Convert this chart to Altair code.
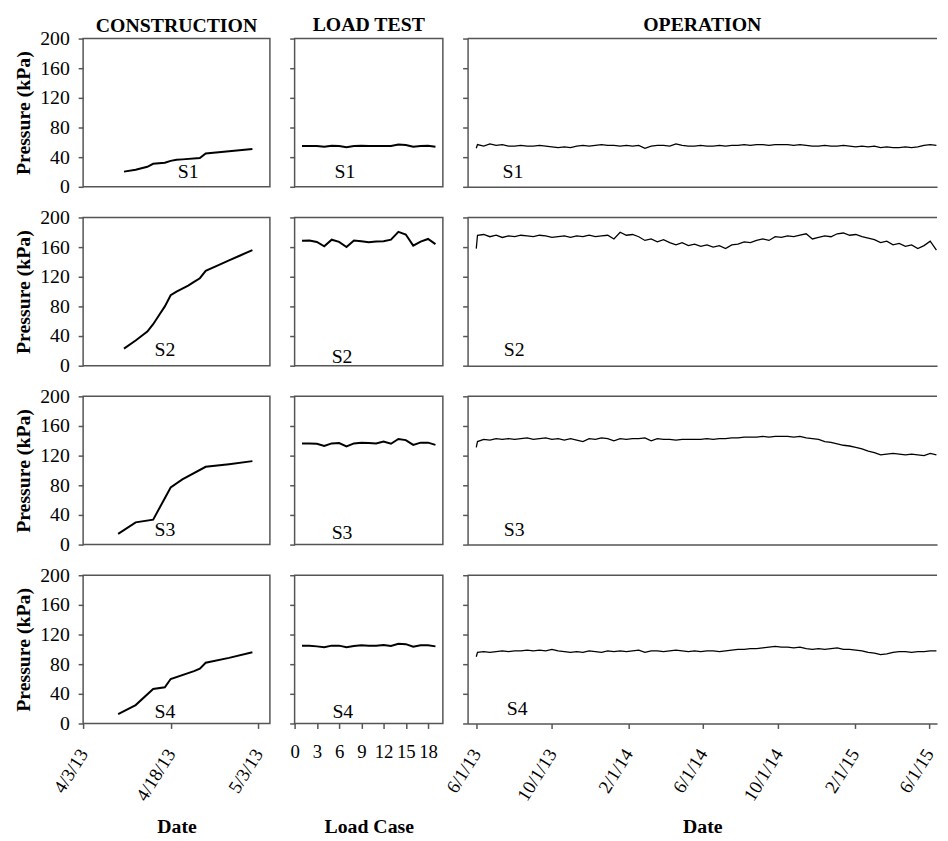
import altair as alt
import pandas as pd

FONT = "'Liberation Serif', 'Times New Roman', Times, 'DejaVu Serif', serif"
EDGE = "#555555"

sensor_names = ["S1", "S2", "S3", "S4"]

# ---------------- CONSTRUCTION (date, kPa) ----------------
con_s1_dates = ["2013-04-10", "2013-04-12", "2013-04-14", "2013-04-15", "2013-04-17", "2013-04-18",
                "2013-04-19", "2013-04-20", "2013-04-23", "2013-04-24", "2013-04-28", "2013-05-02"]
con_s1_vals = [20.5, 23, 27, 31, 32.5, 35, 36.5, 37, 38.8, 45, 48, 51]

con_s2_dates = ["2013-04-10", "2013-04-12", "2013-04-13", "2013-04-14", "2013-04-15", "2013-04-16",
                "2013-04-17", "2013-04-18", "2013-04-19", "2013-04-20", "2013-04-21", "2013-04-22",
                "2013-04-23", "2013-04-24", "2013-04-26", "2013-04-28", "2013-04-30", "2013-05-02"]
con_s2_vals = [23, 34, 40, 46, 56, 68, 80, 95, 100, 104, 108, 113, 118, 128, 135, 142, 149, 156]

con_s3_dates = ["2013-04-09", "2013-04-12", "2013-04-15", "2013-04-18", "2013-04-20", "2013-04-24",
                "2013-04-28", "2013-05-02"]
con_s3_vals = [14.5, 30, 33.7, 77, 88, 105, 108.5, 112.6]

con_s4_dates = ["2013-04-09", "2013-04-12", "2013-04-15", "2013-04-17", "2013-04-18", "2013-04-22",
                "2013-04-23", "2013-04-24", "2013-04-28", "2013-05-02"]
con_s4_vals = [12.6, 24.8, 46.5, 48.8, 60, 70.7, 74, 82, 88.5, 96]

# ---------------- LOAD TEST (load case, kPa) ----------------
load_cases = list(range(1, 20))
load_s1 = [55, 55, 55, 54, 55.5, 55, 53.5, 55, 55.5, 55, 55, 55, 55, 57, 56.5, 54, 55, 55.5, 54]
load_s2 = [168.5, 169, 167, 161, 170, 167, 160, 169, 168, 166.5, 167.5, 168, 170, 180.5, 177, 162, 167.5, 171, 164]
load_s3 = [136.5, 136.5, 136, 133, 136.5, 137, 132.5, 136.5, 137.5, 137, 136.5, 139, 136, 142.5, 141, 134.5, 137.5, 137.5, 134.5]
load_s4 = [105, 105, 104, 103, 105, 105, 103, 104.5, 105.5, 105, 105, 106, 104.5, 107.5, 107, 103.5, 105.5, 105.5, 104]

# ---------------- OPERATION (date, kPa) ----------------
op_dates = ["2013-06-01"] + [d.strftime("%Y-%m-%d") for d in pd.date_range("2013-06-03", periods=75, freq="10D")]
op_s1 = [52,
         57, 55, 58, 56, 57, 55, 55, 56, 55, 55, 56, 55, 54, 53, 54,
         53, 55, 56, 55, 56, 57, 56, 56, 55, 56, 55, 56, 52, 55, 56,
         56, 55, 58, 56, 55, 55, 56, 55, 55, 56, 55, 56, 56, 57, 56,
         57, 57, 56, 57, 57, 57, 56, 57, 56, 55, 55, 56, 55, 55, 56,
         55, 54, 55, 54, 55, 53, 54, 53, 53, 54, 53, 54, 56, 57, 56]
op_s2 = [158,
         176, 177, 174, 176, 173, 175, 174, 176, 175, 174, 176, 175, 173, 174, 175,
         173, 175, 174, 176, 174, 175, 176, 171, 180, 176, 177, 174, 169, 171, 167,
         170, 166, 163, 166, 162, 164, 161, 163, 160, 162, 158, 163, 164, 167, 166,
         169, 171, 169, 174, 173, 175, 174, 176, 178, 171, 173, 175, 174, 178, 179,
         176, 177, 174, 172, 170, 166, 168, 163, 165, 161, 163, 158, 162, 168, 156]
op_s3 = [131,
         139, 142, 141, 143, 142, 143, 142, 143, 144, 142, 143, 144, 142, 143, 141,
         143, 141, 139, 143, 142, 144, 143, 140, 143, 142, 143, 143, 144, 140, 143,
         142, 142, 141, 142, 142, 142, 142, 143, 142, 143, 143, 144, 144, 145, 145,
         145, 146, 145, 146, 146, 146, 145, 146, 144, 143, 142, 139, 138, 136, 134,
         133, 131, 129, 126, 124, 121, 122, 123, 122, 121, 122, 121, 120, 123, 121]
op_s4 = [90,
         96, 97, 96, 97, 98, 97, 98, 98, 99, 98, 99, 98, 100, 98, 97,
         96, 97, 96, 98, 97, 96, 98, 97, 98, 97, 98, 99, 96, 98, 98,
         97, 98, 99, 98, 97, 98, 97, 98, 98, 97, 98, 99, 100, 100, 101,
         101, 102, 103, 104, 103, 103, 102, 103, 101, 100, 101, 100, 101, 102, 100,
         100, 99, 98, 96, 95, 93, 94, 96, 97, 97, 96, 97, 97, 98, 98]

# sensor label anchors (data coordinates)
con_label_dates = ["2013-04-21", "2013-04-17", "2013-04-17", "2013-04-17"]
con_label_vals = [20, 21, 19, 15]
load_label_x = [6.8, 6.4, 6.4, 6.5]
load_label_vals = [20, 12, 16, 16]
op_label_dates = ["2013-07-30", "2013-08-01", "2013-08-01", "2013-08-06"]
op_label_vals = [20, 21, 19, 19]

y_ticks = [0, 40, 80, 120, 160, 200]
load_ticks = [0, 3, 6, 9, 12, 15, 18]


def dt(y, m, d):
    return alt.DateTime(year=y, month=m, date=d)


con_ticks = [dt(2013, 4, 3), dt(2013, 4, 18), dt(2013, 5, 3)]
con_domain = [dt(2013, 4, 3), dt(2013, 5, 5)]
op_ticks = [dt(2013, 6, 1), dt(2013, 10, 1), dt(2014, 2, 1), dt(2014, 6, 1),
            dt(2014, 10, 1), dt(2015, 2, 1), dt(2015, 6, 1)]
op_domain = [dt(2013, 5, 18), dt(2015, 6, 14)]

con_series = [(con_s1_dates, con_s1_vals), (con_s2_dates, con_s2_vals),
              (con_s3_dates, con_s3_vals), (con_s4_dates, con_s4_vals)]
load_series = [load_s1, load_s2, load_s3, load_s4]
op_series = [op_s1, op_s2, op_s3, op_s4]

W_CON, W_LOAD, W_OP, H = 189, 150, 475, 150
TITLE_Y = 104


def yenc(first):
    if first:
        ax = alt.Axis(values=y_ticks, title="Pressure (kPa)", labelFontSize=20, titleFontSize=20,
                      titleFontWeight="bold", labelPadding=9, titlePadding=6, tickSize=5,
                      domain=False, grid=False)
    else:
        ax = alt.Axis(values=y_ticks, labels=False, title=None, tickSize=5, domain=False, grid=False)
    return alt.Y("p:Q", scale=alt.Scale(domain=[0, 200], nice=False, zero=True), axis=ax)


def date_axis(ticks, bottom, domain):
    if bottom:
        return alt.Axis(values=ticks, format="%-m/%-d/%y", labelAngle=302, labelAlign="right",
                        labelBaseline="middle", labelFontSize=19, labelPadding=22, tickSize=5,
                        labelOverlap=False, labelFlush=False, title="Date", titleFontSize=20,
                        titleFontWeight="bold", titleY=TITLE_Y, titleBaseline="middle",
                        grid=False, domain=domain)
    return alt.Axis(values=ticks, labels=False, ticks=False, title=None, grid=False, domain=domain)


def label_layer(df, xenc, y):
    return alt.Chart(df).mark_text(font=FONT, fontSize=20, color="black", align="center",
                                   baseline="middle").encode(x=xenc, y=y, text="t:N")


def col_title(text, off):
    return alt.TitleParams(text, offset=off, frame="group", anchor="middle")


panels = []
for i, name in enumerate(sensor_names):
    bottom = i == 3
    top = i == 0

    # construction
    d, v = con_series[i]
    df = pd.DataFrame({"x": pd.to_datetime(d), "p": v})
    xenc = alt.X("x:T", scale=alt.Scale(domain=con_domain), axis=date_axis(con_ticks, bottom, False))
    line = alt.Chart(df).mark_line(color="black", strokeWidth=2).encode(x=xenc, y=yenc(True))
    lab = pd.DataFrame({"x": pd.to_datetime([con_label_dates[i]]), "p": [con_label_vals[i]], "t": [name]})
    c = alt.layer(line, label_layer(lab, xenc, yenc(True))).properties(width=W_CON, height=H)
    if top:
        c = c.properties(title=col_title("CONSTRUCTION", -7))
    panels.append(c)

    # load test
    df = pd.DataFrame({"x": load_cases, "p": load_series[i]})
    if bottom:
        lax = alt.Axis(values=load_ticks, labelAngle=0, labelFontSize=19, labelPadding=14, tickSize=5,
                       labelFlush=False, labelOverlap=False, title="Load Case", titleFontSize=20,
                       titleFontWeight="bold", titleY=TITLE_Y, titleBaseline="middle", grid=False, domain=False)
    else:
        lax = alt.Axis(values=load_ticks, labels=False, ticks=False, title=None, grid=False, domain=False)
    xenc = alt.X("x:Q", scale=alt.Scale(domain=[0, 20], nice=False), axis=lax)
    ye = alt.Y("p:Q", scale=alt.Scale(domain=[0, 200], nice=False),
               axis=alt.Axis(values=y_ticks, labels=False, title=None, tickSize=5, domain=False, grid=False))
    line = alt.Chart(df).mark_line(color="black", strokeWidth=2).encode(x=xenc, y=ye)
    lab = pd.DataFrame({"x": [load_label_x[i]], "p": [load_label_vals[i]], "t": [name]})
    c = alt.layer(line, label_layer(lab, xenc, ye)).properties(width=W_LOAD, height=H)
    if top:
        c = c.properties(title=col_title("LOAD TEST", 3))
    panels.append(c)

    # operation
    df = pd.DataFrame({"x": pd.to_datetime(op_dates), "p": op_series[i]})
    xenc = alt.X("x:T", scale=alt.Scale(domain=op_domain), axis=date_axis(op_ticks, bottom, True))
    ye = alt.Y("p:Q", scale=alt.Scale(domain=[0, 200], nice=False),
               axis=alt.Axis(values=y_ticks, labels=False, title=None, tickSize=5, domain=True, grid=False))
    line = alt.Chart(df).mark_line(color="black", strokeWidth=1.3).encode(x=xenc, y=ye)
    topline = alt.Chart(pd.DataFrame({"p": [200]})).mark_rule(color=EDGE, strokeWidth=1.5).encode(y=ye)
    lab = pd.DataFrame({"x": pd.to_datetime([op_label_dates[i]]), "p": [op_label_vals[i]], "t": [name]})
    c = alt.layer(line, topline, label_layer(lab, xenc, ye)).properties(
        width=W_OP, height=H, view=alt.ViewBackground(stroke="transparent"))
    if top:
        c = c.properties(title=col_title("OPERATION", 3))
    panels.append(c)

chart = alt.concat(*panels, columns=3, spacing={"row": 31, "column": 25}, bounds="flush",
                   align="each").properties(
    padding={"left": 5, "top": 1, "right": 0, "bottom": 0}
).configure_view(
    stroke=EDGE, strokeWidth=1.5
).configure_axis(
    labelFont=FONT, titleFont=FONT, labelColor="black", titleColor="black",
    tickColor=EDGE, domainColor=EDGE, tickWidth=1.5, domainWidth=1.5, grid=False
).configure_title(
    font=FONT, fontSize=20, fontWeight="bold", color="black", anchor="middle"
)

chart.save("out.html", embed_options={"renderer": "svg", "actions": False})
